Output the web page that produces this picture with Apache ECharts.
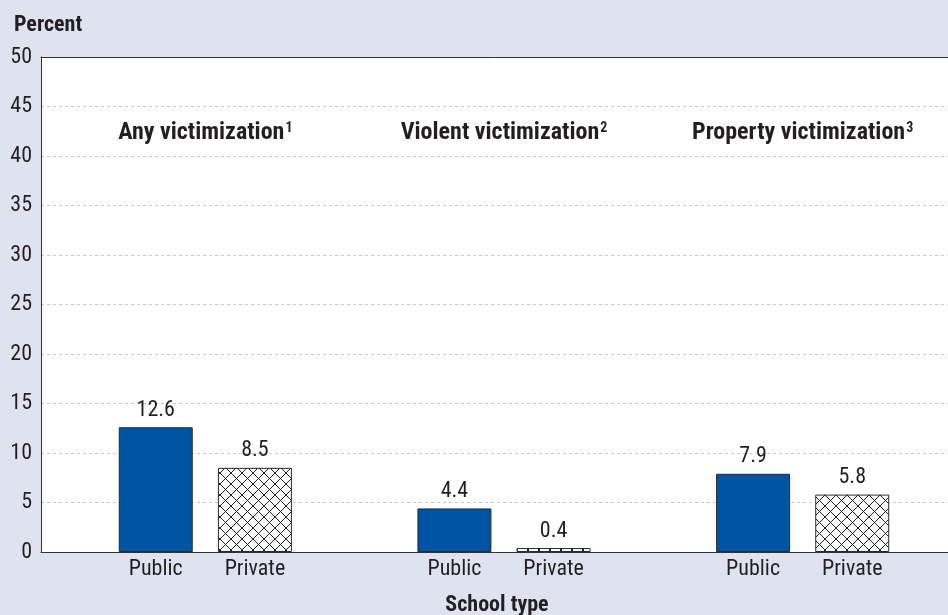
<!DOCTYPE html>
<html>
<head>
<meta charset="utf-8">
<script src="https://cdn.jsdelivr.net/npm/echarts@6/dist/echarts.min.js"></script>
<style>
html,body{margin:0;padding:0;background:#dfe3f0;}
#c{width:948px;height:615px;}
</style>
</head>
<body>
<div id="c"></div>
<script>
// ---- data ----
const groups = ['Any victimization', 'Violent victimization', 'Property victimization'];
const footnotes = ['1', '2', '3'];
const schoolTypes = ['Public', 'Private'];
const publicVals = [12.6, 4.4, 7.9];
const privateVals = [8.5, 0.4, 5.8];
const yMin = 0, yMax = 50, yStep = 5;

// ---- styles ----
const FONT = "'Roboto Condensed','DejaVu Sans Condensed',sans-serif";
const TXT = '#231f20';
const LINE = '#333';
const FS = 22;

function hatch() {
  const s = 11;
  const c = document.createElement('canvas');
  c.width = s; c.height = s;
  const g = c.getContext('2d');
  g.fillStyle = '#fff'; g.fillRect(0, 0, s, s);
  g.strokeStyle = '#222'; g.lineWidth = 1;
  g.beginPath();
  g.moveTo(-1, -1); g.lineTo(s + 1, s + 1);
  g.moveTo(s + 1, -1); g.lineTo(-1, s + 1);
  g.stroke();
  return c;
}

const chart = echarts.init(document.getElementById('c'), null, {renderer: 'canvas'});
const gTop = 57, gBottom = 63;

const option = {
  backgroundColor: '#dfe3f0',
  textStyle: {fontFamily: FONT, color: TXT},
  animation: false,
  title: {
    text: 'Percent', left: 9, top: 9,
    textStyle: {fontFamily: FONT, fontWeight: 'bold', fontSize: FS, color: TXT}
  },
  grid: [
    {left: 41, right: -5, top: gTop, bottom: gBottom, show: true, backgroundColor: '#fff',
     borderWidth: 0, containLabel: false, outerBoundsMode: 'none'},
    {left: 56, right: -4, top: gTop, bottom: gBottom, containLabel: false, outerBoundsMode: 'none'}
  ],
  xAxis: [
    {gridIndex: 0, type: 'value', min: 0, max: 1,
     axisLine: {show: true, lineStyle: {color: LINE, width: 1}}, axisTick: {show: false},
     axisLabel: {show: false}, splitLine: {show: false},
     name: 'School type', nameLocation: 'middle', nameGap: 42,
     nameTextStyle: {fontFamily: FONT, fontWeight: 'bold', fontSize: FS, color: TXT}},
    {gridIndex: 1, type: 'category', data: groups,
     axisLine: {show: false}, axisTick: {show: false}, axisLabel: {show: false}},
    {gridIndex: 1, type: 'category', data: groups,
     axisLine: {show: false}, axisTick: {show: false}, axisLabel: {show: false}},
    {gridIndex: 1, type: 'category', data: groups, position: 'top', offset: -88,
     axisLine: {show: false}, axisTick: {show: false},
     axisLabel: {
       show: true, margin: 0, interval: 0,
       formatter: (v, i) => '{t|' + v + '}{s|' + footnotes[i] + '}',
       rich: {
         t: {fontFamily: FONT, fontWeight: 'bold', fontSize: 24, color: TXT},
         s: {fontFamily: FONT, fontWeight: 'bold', fontSize: 14, color: TXT, padding: [0, 0, 10, 1]}
       }
     }},
    {gridIndex: 0, type: 'value', min: 0, max: 1, position: 'top',
     axisLine: {show: true, lineStyle: {color: LINE, width: 1}}, axisTick: {show: false},
     axisLabel: {show: false}, splitLine: {show: false}}
  ],
  yAxis: [
    {gridIndex: 0, type: 'value', min: yMin, max: yMax, interval: yStep,
     axisLine: {show: true, lineStyle: {color: LINE, width: 1}}, axisTick: {show: false},
     axisLabel: {fontFamily: FONT, fontSize: FS, color: TXT, margin: 9},
     splitLine: {show: true, lineStyle: {color: '#c8c8c8', type: [3, 3], width: 1}}},
    {gridIndex: 1, type: 'value', min: yMin, max: yMax, interval: yStep, show: false,
     splitLine: {show: false}}
  ],
  series: [
    {name: schoolTypes[0], type: 'bar', xAxisIndex: 1, yAxisIndex: 1, data: publicVals,
     barWidth: 74, barGap: '34%',
     itemStyle: {color: '#0054a4', borderColor: '#2b2b2b', borderWidth: 1},
     label: {show: true, position: 'top', distance: 6, fontFamily: FONT, fontSize: FS, color: TXT,
             formatter: p => p.value.toFixed(1)}},
    {name: schoolTypes[1], type: 'bar', xAxisIndex: 1, yAxisIndex: 1, data: privateVals,
     barWidth: 74,
     itemStyle: {color: {image: hatch(), repeat: 'repeat'}, borderColor: '#2b2b2b', borderWidth: 1},
     label: {show: true, position: 'top', distance: 6, fontFamily: FONT, fontSize: FS, color: TXT,
             formatter: p => p.value.toFixed(1)}},
    {name: schoolTypes[0] + ' label', type: 'bar', xAxisIndex: 2, yAxisIndex: 1, data: publicVals,
     barWidth: 74, barGap: '34%', silent: true,
     itemStyle: {color: 'rgba(0,0,0,0)'},
     label: {show: true, position: ['50%', '100%'], offset: [0, 6], align: 'center', verticalAlign: 'top',
             fontFamily: FONT, fontSize: FS, color: TXT, formatter: () => schoolTypes[0]}},
    {name: schoolTypes[1] + ' label', type: 'bar', xAxisIndex: 2, yAxisIndex: 1, data: privateVals,
     barWidth: 74, silent: true,
     itemStyle: {color: 'rgba(0,0,0,0)'},
     label: {show: true, position: ['50%', '100%'], offset: [0, 6], align: 'center', verticalAlign: 'top',
             fontFamily: FONT, fontSize: FS, color: TXT, formatter: () => schoolTypes[1]}}
  ]
};
chart.setOption(option);
</script>
</body>
</html>
